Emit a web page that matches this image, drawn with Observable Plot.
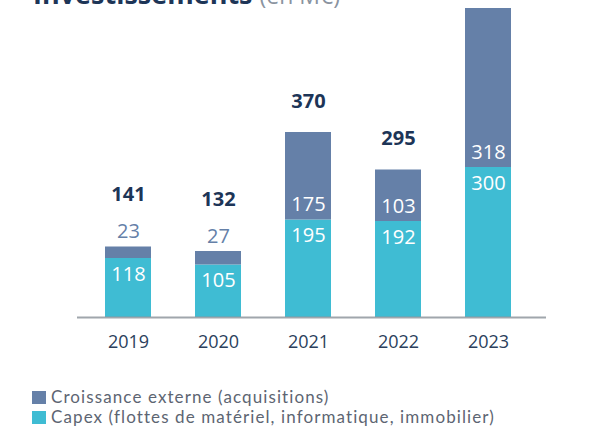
<!DOCTYPE html>
<html>
<head>
<meta charset="utf-8">
<script src="https://cdn.jsdelivr.net/npm/d3@7"></script>
<script src="https://cdn.jsdelivr.net/npm/@observablehq/plot@0.6"></script>
<style>
  html, body { margin: 0; padding: 0; background: #fff; }
  #wrap { position: relative; width: 603px; height: 427px; overflow: hidden; font-family: "Open Sans", sans-serif; }
  #title { position: absolute; left: 33px; top: -20px; font-size: 27px; line-height: 27px; white-space: nowrap; color: #1d3557; font-weight: 700; }
  #title span { font-weight: 400; color: #8a93a0; font-size: 23px; }
  #chart { position: absolute; left: 0; top: 0; }
  #legend { position: absolute; left: 32px; top: 387px; font-family: "Lato", sans-serif; font-size: 17px; letter-spacing: 1.1px; line-height: 20px; color: #5d6572; }
  .li { display: flex; align-items: center; white-space: nowrap; height: 20px; }
  .sw { width: 14px; height: 13px; margin-right: 5px; }
</style>
</head>
<body>
<div id="wrap">
  <div id="title">Investissements <span>(en M€)</span></div>
  <div id="chart"></div>
  <div id="legend">
    <div class="li"><div class="sw" style="background:#6580a8"></div>Croissance externe (acquisitions)</div>
    <div class="li"><div class="sw" style="background:#3fbcd3"></div>Capex (flottes de matériel, informatique, immobilier)</div>
  </div>
</div>
<script>
const years = ["2019", "2020", "2021", "2022", "2023"];
const capex = [118, 105, 195, 192, 300];
const externe = [23, 27, 175, 103, 318];

const rows = years.map((year, i) => ({
  year,
  capex: capex[i],
  externe: externe[i],
  total: capex[i] + externe[i]
}));

const cCapex = "#3fbcd3";
const cExt = "#6580a8";
const navy = "#1d3557";
const small = d => d.externe < 30;

const plot = Plot.plot({
  width: 603,
  height: 365,
  marginTop: 8,
  marginBottom: 48,
  marginLeft: 77,
  marginRight: 57,
  style: { fontFamily: "'Open Sans', sans-serif", background: "transparent" },
  x: { domain: years, paddingInner: 0.49, paddingOuter: 0.33, align: 0.45, label: null, tickSize: 0, tickPadding: 18 },
  y: { domain: [0, 618], axis: null },
  marks: [
    Plot.barY(rows, { x: "year", y1: 0, y2: "capex", fill: cCapex }),
    Plot.barY(rows, { x: "year", y1: "capex", y2: "total", fill: cExt }),
    Plot.ruleY([0], { stroke: "#8f969e", strokeWidth: 2, strokeOpacity: 0.85 }),
    Plot.axisX({ tickSize: 0, tickPadding: 18, fontSize: 18, fill: "#2b3f5c", label: null }),
    Plot.text(rows, { x: "year", y: "capex", text: d => String(d.capex), dy: 16, fill: "white", fontSize: 20 }),
    Plot.text(rows.filter(small), { x: "year", y: "total", text: d => String(d.externe), dy: -15, fill: cExt, fontSize: 20 }),
    Plot.text(rows.filter(d => !small(d)), { x: "year", y: "capex", text: d => String(d.externe), dy: -15, fill: "white", fontSize: 20 }),
    Plot.text(rows.filter(small), { x: "year", y: "total", text: d => String(d.total), dy: -52,
      fontWeight: "bold", fill: navy, fontSize: 20 }),
    Plot.text(rows.filter(d => !small(d) && d.total < 600), { x: "year", y: "total", text: d => String(d.total), dy: -31,
      fontWeight: "bold", fill: navy, fontSize: 20 })
  ]
});
document.getElementById("chart").appendChild(plot);
</script>
</body>
</html>
